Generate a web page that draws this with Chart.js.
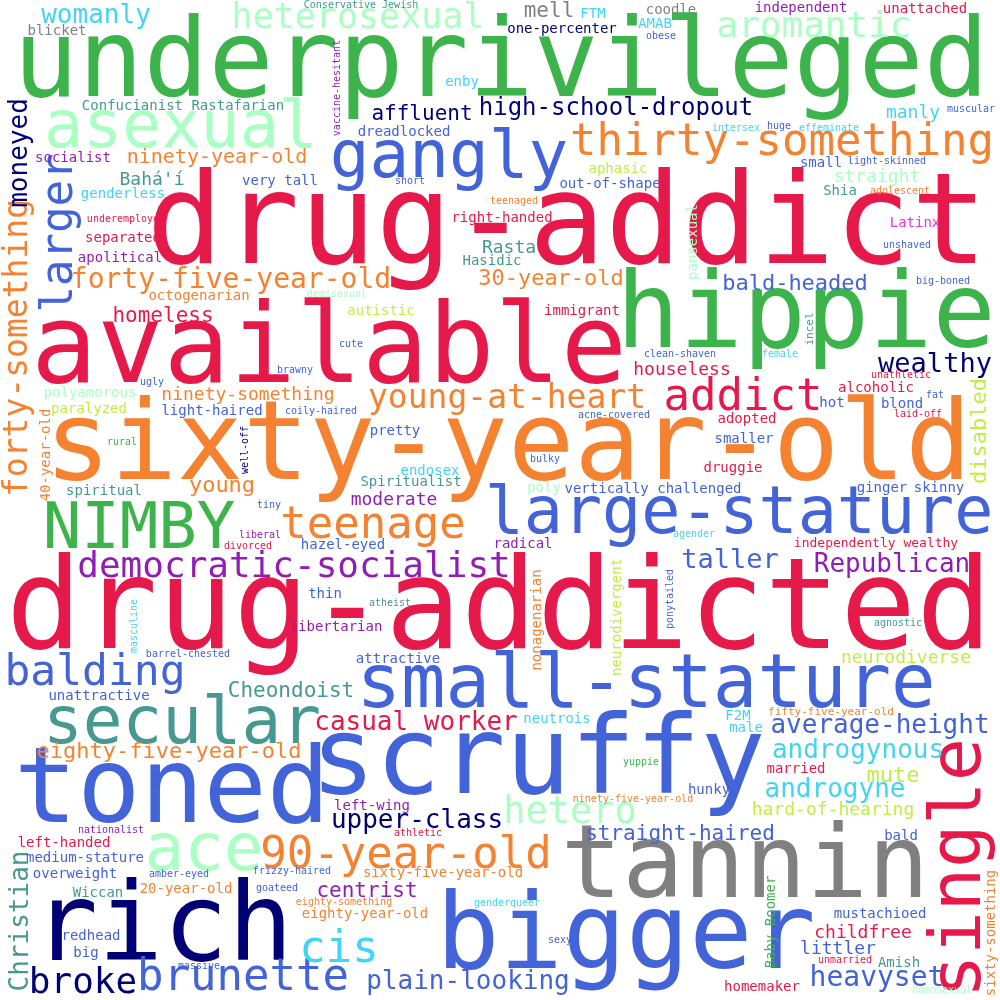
<!DOCTYPE html>
<html>
<head>
<meta charset="utf-8">
<script src="https://cdn.jsdelivr.net/npm/chart.js@4.4.1/dist/chart.umd.min.js"></script>
<style>
  html, body { margin: 0; padding: 0; background: #ffffff; }
  #wrap { width: 1000px; height: 1000px; }
</style>
</head>
<body>
<div id="wrap"><canvas id="cloud" width="1000" height="1000"></canvas></div>
<script>
// words of the cloud, 10 per line
const words = [
  "underprivileged","drug-addict","available","hippie","sixty-year-old","drug-addicted","scruffy","tannin","bigger","rich",
  "toned","single","large-stature","small-stature","secular","NIMBY","ace","asexual","gangly","addict",
  "thirty-something","teenage","balding","90-year-old","brunette","cis","larger","democratic-socialist","heterosexual","aromantic",
  "hetero","broke","young-at-heart","forty-something","forty-five-year-old","heavyset","wealthy","womanly","taller","Republican",
  "average-height","androgynous","androgyne","upper-class","plain-looking","casual worker","Christian","moneyed","high-school-dropout","eighty-five-year-old",
  "30-year-old","young","bald-headed","disabled","mute","affluent","mell","homeless","Cheondoist","centrist",
  "straight-haired","ninety-year-old","Bahá'í","manly","straight","Rasta","houseless","ninety-something","neurodiverse","hard-of-hearing",
  "childfree","littler","moderate","Confucianist Rastafarian","socialist","very tall","genderless","separated","FTM","coodle",
  "AMAB","one-percenter","enby","dreadlocked","aphasic","out-of-shape","right-handed","independent","unattached","small",
  "Shia","Latinx","pansexual","apolitical","octogenarian","polyamorous","paralyzed","light-haired","40-year-old","spiritual",
  "Hasidic","autistic","immigrant","pretty","endosex","Spiritualist","poly","vertically challenged","alcoholic","hot",
  "blond","adopted","smaller","druggie","ginger","skinny","hazel-eyed","thin","libertarian","unattractive",
  "radical","nonagenarian","neurodivergent","attractive","neutrois","independently wealthy","F2M","male","left-handed","medium-stature",
  "overweight","Wiccan","20-year-old","eighty-year-old","redhead","big","left-wing","sixty-five-year-old","married","hunky",
  "bald","Baby Boomer","mustachioed","Amish","homemaker","sixty-something","blicket","Conservative Jewish","vaccine-hesitant","underemployed",
  "obese","short","teenaged","muscular","intersex","huge","effeminate","light-skinned","adolescent","unshaved",
  "demisexual","brawny","ugly","coily-haired","rural","well-off","cute","clean-shaven","acne-covered","bulky",
  "big-boned","incel","female","unathletic","fat","laid-off","tiny","liberal","divorced","masculine",
  "barrel-chested","atheist","ponytailed","agender","agnostic","fifty-five-year-old","nationalist","amber-eyed","frizzy-haired","goateed",
  "eighty-something","massive","yuppie","ninety-five-year-old","athletic","genderqueer","sexy","unmarried","homosexual"
];

// word anchor along x (0-1000)
const xValues = [
  501,567,329,806,508,499,538,745,626,163,
  172,980,739,646,182,139,204,181,449,743,
  782,373,95,406,243,339,72,294,358,814,
  570,83,507,27,231,877,935,96,730,892,
  880,858,835,417,468,416,28,27,616,169,
  551,222,795,986,893,422,549,163,291,367,
  680,217,152,913,877,509,682,248,906,833,
  863,838,394,183,73,280,123,123,593,671,
  655,562,462,404,618,610,502,801,925,821,
  840,915,697,120,199,90,89,212,50,104,
  492,381,582,395,430,411,544,653,876,832,
  902,747,744,733,882,939,343,325,336,99,
  523,541,621,398,557,876,738,746,64,85,
  75,98,186,365,91,86,372,443,796,709,
  901,775,880,899,762,995,57,361,340,126,
  661,410,514,971,736,779,829,887,900,907,
  337,295,152,321,122,248,351,680,614,545,
  943,813,780,901,935,918,269,260,248,137,
  188,390,673,694,898,831,111,179,292,277,
  344,199,641,633,418,507,560,845,942
];

// word anchor along y (0-1000, top down)
const yValues = [
  96,263,382,347,479,648,793,897,968,960,
  822,868,533,707,743,548,870,147,177,410,
  155,538,685,868,990,962,233,577,28,37,
  823,993,408,348,288,986,372,23,568,572,
  733,758,797,828,989,730,921,153,115,758,
  285,492,290,431,782,120,17,322,697,897,
  840,163,185,118,182,253,375,400,663,815,
  938,954,505,110,162,185,198,242,18,14,
  28,33,86,136,173,188,222,12,13,167,
  195,227,242,262,300,397,413,415,455,495,
  265,315,315,435,475,486,492,493,392,407,
  408,423,443,472,492,492,549,598,631,700,
  548,620,617,663,723,547,720,732,847,862,
  878,897,893,918,940,957,810,877,773,794,
  840,922,918,967,991,933,35,8,88,222,
  39,184,204,112,131,129,131,164,194,248,
  297,373,385,414,445,450,347,357,418,462,
  284,329,357,378,398,417,508,538,549,626,
  657,606,599,537,626,715,833,877,874,891,
  905,969,765,802,836,906,943,963,993
];

// word weight (drawn as text height in y units)
const weights = [
  108,127,110,105,110,126,108,102,105,108,
  105,72,65,74,66,64,66,65,66,44,
  44,44,43,44,44,44,44,36,35,36,
  37,36,33,33,28,28,27,26,27,26,
  26,26,26,26,26,26,26,26,24,22,
  22,22,22,22,22,21,21,21,21,21,
  21,20,18,18,18,18,18,18,18,18,
  18,18,18,14,14,14,14,14,14,14,
  14,14,14,14,14,14,14,14,14,14,
  14,14,14,14,14,14,14,14,14,14,
  14,14,14,14,14,14,14,14,14,14,
  14,14,14,14,14,14,14,14,14,14,
  14,14,14,14,14,13,14,14,14,14,
  14,14,14,14,14,14,14,14,14,14,
  14,14,14,14,14,14,14,10,10,10,
  10,10,10,10,10,10,10,10,10,10,
  10,10,10,10,10,10,10,10,10,10,
  10,11,10,10,10,10,10,10,10,10,
  10,10,10,10,10,11,10,10,10,10,
  10,10,10,10,10,10,10,10,10
];

// colour group of each word (index into palette)
const colorGroups = [
  1,0,0,1,3,0,2,10,2,9,
  2,0,2,2,8,1,11,11,2,0,
  3,3,2,3,2,5,2,4,11,11,
  11,9,3,3,3,2,9,5,2,4,
  2,5,5,9,2,0,8,9,9,3,
  3,3,2,7,7,9,10,0,8,4,
  2,3,8,5,11,8,0,3,7,7,
  0,2,4,8,4,2,5,0,5,10,
  5,9,5,2,7,2,0,4,0,2,
  8,6,11,4,3,11,7,2,3,8,
  8,7,0,2,5,8,11,2,0,2,
  2,0,2,0,2,2,2,2,4,2,
  4,3,7,2,5,0,5,5,0,2,
  2,8,3,3,2,2,4,3,0,2,
  2,1,2,8,0,3,10,8,4,0,
  2,2,3,2,5,2,5,2,3,2,
  11,2,2,2,1,9,2,2,2,2,
  2,8,5,0,2,0,2,4,0,5,
  2,8,2,5,8,3,4,2,2,2,
  3,2,1,3,0,5,2,0,11
];

// words set upright (read bottom to top)
const verticalWords = [
  "single","larger","forty-something","Christian","moneyed","disabled","pansexual","40-year-old",
  "nonagenarian","neurodivergent","Baby Boomer","sixty-something","vaccine-hesitant","well-off",
  "incel","masculine","ponytailed"
];

const palette = [
  "#e6194b", "#3cb44b", "#4363d8", "#f58231", "#911eb4", "#42d4f4",
  "#f032e6", "#bfef45", "#469990", "#000075", "#808080", "#aaffc3"
];

// draws each word at its point
const wordPlugin = {
  id: "wordPlugin",
  afterDatasetsDraw(chart) {
    const ctx = chart.ctx;
    const yScale = chart.scales.y;
    const unit = Math.abs(yScale.getPixelForValue(1) - yScale.getPixelForValue(0));
    const meta = chart.getDatasetMeta(0);
    ctx.save();
    ctx.textAlign = "center";
    ctx.textBaseline = "alphabetic";
    meta.data.forEach((pt, i) => {
      ctx.save();
      ctx.font = (weights[i] * unit) + 'px "DejaVu Sans Mono"';
      ctx.fillStyle = palette[colorGroups[i]];
      ctx.translate(pt.x, pt.y);
      if (verticalWords.includes(words[i])) ctx.rotate(-Math.PI / 2);
      ctx.fillText(words[i], 0, 0);
      ctx.restore();
    });
    ctx.restore();
  }
};

new Chart(document.getElementById("cloud"), {
  type: "scatter",
  data: {
    labels: words,
    datasets: [{
      data: words.map((w, i) => ({ x: xValues[i], y: yValues[i] })),
      pointRadius: 0,
      pointHoverRadius: 0
    }]
  },
  options: {
    responsive: false,
    animation: false,
    events: [],
    layout: { padding: 0 },
    plugins: { legend: { display: false }, tooltip: { enabled: false } },
    scales: {
      x: { type: "linear", min: 0, max: 1000, display: false },
      y: { type: "linear", min: 0, max: 1000, reverse: true, display: false }
    }
  },
  plugins: [wordPlugin]
});
</script>
</body>
</html>
